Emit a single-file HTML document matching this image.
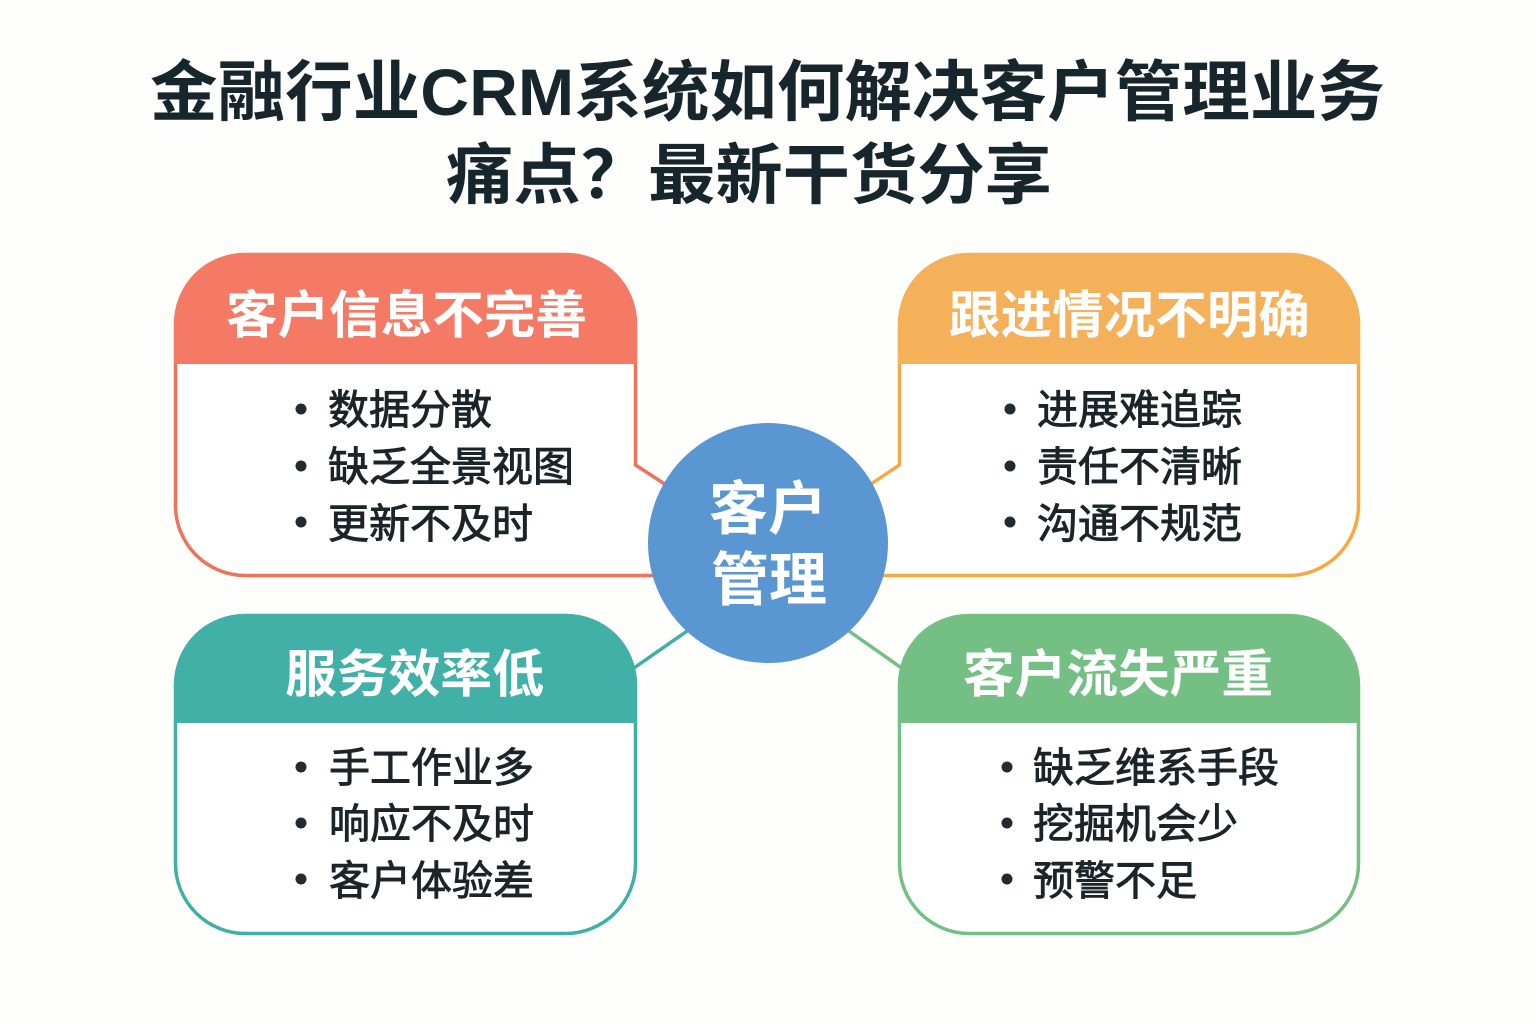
<!DOCTYPE html>
<html lang="zh">
<head>
<meta charset="utf-8">
<style>
html,body{margin:0;padding:0;background:#fefefc;}
svg{display:block;}
text{font-family:"Liberation Sans","Noto Sans CJK SC",sans-serif;}
.t{font-size:66px;font-weight:700;fill:#17262d;}
.h{font-size:51px;font-weight:700;fill:#fff;}
.i{font-size:41px;font-weight:400;fill:#1b2529;stroke:#1b2529;stroke-width:.9px;}
.c{font-size:58px;font-weight:700;fill:#fff;}
</style>
</head>
<body>
<svg width="1536" height="1024" viewBox="0 0 1536 1024" xmlns="http://www.w3.org/2000/svg">
<rect width="1536" height="1024" fill="#fefefc"/>

<text class="t" x="150" y="115" textLength="1235" lengthAdjust="spacingAndGlyphs">金融行业CRM系统如何解决客户管理业务</text>
<text class="t" x="446" y="198" textLength="606" lengthAdjust="spacingAndGlyphs">痛点？最新干货分享</text>

<!-- connectors -->
<line x1="634" y1="668" x2="690" y2="629" stroke="#3fb0a6" stroke-width="3.5"/>
<line x1="846" y1="629" x2="903" y2="669" stroke="#74bf84" stroke-width="3.5"/>

<!-- card 1 -->
<path d="M175.500 324.500a70 70 0 0 1 70-70H565.500a70 70 0 0 1 70 70V465L680 494V575.500H245.500a70 70 0 0 1-70-70Z" fill="#fff" stroke="#f2705c" stroke-width="3.500"/>
<path d="M174 364V323a70 70 0 0 1 70-70H567a70 70 0 0 1 70 70V364Z" fill="#f47a66"/>
<text class="h" x="226" y="333" textLength="361" lengthAdjust="spacingAndGlyphs">客户信息不完善</text>
<circle cx="301" cy="409" r="5.500" fill="#222c30"/>
<circle cx="301" cy="466" r="5.500" fill="#222c30"/>
<circle cx="301" cy="522" r="5.500" fill="#222c30"/>
<text class="i" x="328" y="424">数据分散</text>
<text class="i" x="328" y="481">缺乏全景视图</text>
<text class="i" x="328" y="538">更新不及时</text>

<!-- card 2 -->
<path d="M1358.500 324.500a70 70 0 0 0-70-70H969.500a70 70 0 0 0-70 70V465L856 494V575.500H1288.500a70 70 0 0 0 70-70Z" fill="#fff" stroke="#f6a941" stroke-width="3.500"/>
<path d="M898 364V323a70 70 0 0 1 70-70H1290a70 70 0 0 1 70 70V364Z" fill="#f5b05a"/>
<text class="h" x="949" y="333" textLength="361" lengthAdjust="spacingAndGlyphs">跟进情况不明确</text>
<circle cx="1010" cy="409" r="5.500" fill="#222c30"/>
<circle cx="1010" cy="466" r="5.500" fill="#222c30"/>
<circle cx="1010" cy="522" r="5.500" fill="#222c30"/>
<text class="i" x="1037" y="424">进展难追踪</text>
<text class="i" x="1037" y="481">责任不清晰</text>
<text class="i" x="1037" y="538">沟通不规范</text>

<!-- card 3 -->
<rect x="175.500" y="615.500" width="460" height="318" rx="70" fill="#fff" stroke="#3fb0a6" stroke-width="3.500"/>
<path d="M174 723V684a70 70 0 0 1 70-70H567a70 70 0 0 1 70 70V723Z" fill="#41b1a7"/>
<text class="h" x="285" y="692" textLength="259" lengthAdjust="spacingAndGlyphs">服务效率低</text>
<circle cx="301" cy="767" r="5.500" fill="#222c30"/>
<circle cx="301" cy="823" r="5.500" fill="#222c30"/>
<circle cx="301" cy="879" r="5.500" fill="#222c30"/>
<text class="i" x="329" y="782">手工作业多</text>
<text class="i" x="329" y="838">响应不及时</text>
<text class="i" x="329" y="895">客户体验差</text>

<!-- card 4 -->
<rect x="899.500" y="615.500" width="459" height="318" rx="70" fill="#fff" stroke="#74bf84" stroke-width="3.500"/>
<path d="M898 723V684a70 70 0 0 1 70-70H1290a70 70 0 0 1 70 70V723Z" fill="#74bf84"/>
<text class="h" x="963" y="692" textLength="310" lengthAdjust="spacingAndGlyphs">客户流失严重</text>
<circle cx="1007" cy="767" r="5.500" fill="#222c30"/>
<circle cx="1007" cy="823" r="5.500" fill="#222c30"/>
<circle cx="1007" cy="879" r="5.500" fill="#222c30"/>
<text class="i" x="1033" y="782">缺乏维系手段</text>
<text class="i" x="1033" y="838">挖掘机会少</text>
<text class="i" x="1033" y="895">预警不足</text>

<!-- center -->
<circle cx="768" cy="543" r="120" fill="#5a96d2"/>
<text class="c" x="709" y="529" textLength="118" lengthAdjust="spacingAndGlyphs">客户</text>
<text class="c" x="711" y="600" textLength="116" lengthAdjust="spacingAndGlyphs">管理</text>
</svg>
</body>
</html>
